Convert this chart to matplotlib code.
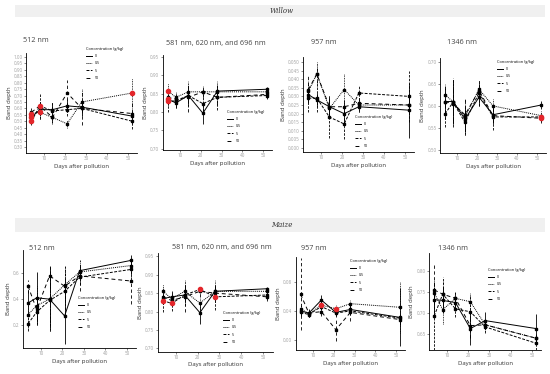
import numpy as np
import matplotlib.pyplot as plt
from matplotlib.lines import Line2D
from matplotlib.ticker import FormatStrFormatter

plt.rcParams['font.family'] = ['Open Sans', 'DejaVu Sans']

days = [4, 8, 14, 21, 28, 52]
conc = ["0", "0.5", "5", "50"]

# Willow
w512 = [[0.53, 0.59, 0.59, 0.62, 0.61, 0.54],
        [0.56, 0.57, 0.53, 0.48, 0.65, 0.72],
        [0.50, 0.62, 0.58, 0.59, 0.60, 0.50],
        [0.57, 0.62, 0.53, 0.72, 0.60, 0.56]]
w512_err = [[0.03, 0.05, 0.05, 0.05, 0.04, 0.04],
            [0.03, 0.05, 0.05, 0.03, 0.10, 0.12],
            [0.03, 0.10, 0.07, 0.05, 0.06, 0.06],
            [0.03, 0.04, 0.04, 0.10, 0.13, 0.08]]
w512_red = [(0, 0), (1, 0), (2, 0), (1, 1), (2, 1), (1, 5)]

w581 = [[0.835, 0.825, 0.845, 0.797, 0.857, 0.862],
        [0.858, 0.840, 0.855, 0.855, 0.855, 0.855],
        [0.830, 0.830, 0.845, 0.823, 0.840, 0.845],
        [0.840, 0.835, 0.840, 0.855, 0.840, 0.848]]
w581_err = [[0.015, 0.015, 0.02, 0.03, 0.015, 0.005],
            [0.02, 0.015, 0.03, 0.015, 0.03, 0.005],
            [0.03, 0.02, 0.03, 0.02, 0.035, 0.01],
            [0.02, 0.015, 0.04, 0.015, 0.02, 0.01]]
w581_red = [(0, 0), (1, 0), (2, 0)]

w957 = [[0.031, 0.028, 0.024, 0.020, 0.024, 0.022],
        [0.033, 0.043, 0.023, 0.034, 0.025, 0.025],
        [0.029, 0.029, 0.018, 0.014, 0.032, 0.030],
        [0.034, 0.043, 0.024, 0.024, 0.026, 0.025]]
w957_err = [[0.004, 0.004, 0.006, 0.006, 0.003, 0.016],
            [0.006, 0.007, 0.004, 0.009, 0.004, 0.005],
            [0.008, 0.008, 0.012, 0.009, 0.004, 0.015],
            [0.008, 0.005, 0.005, 0.005, 0.003, 0.005]]
w957_red = []

w1346 = [[0.610, 0.610, 0.570, 0.620, 0.580, 0.602],
         [0.625, 0.610, 0.575, 0.638, 0.600, 0.578],
         [0.582, 0.608, 0.563, 0.630, 0.575, 0.575],
         [0.610, 0.605, 0.580, 0.635, 0.578, 0.572]]
w1346_err = [[0.03, 0.05, 0.03, 0.02, 0.02, 0.01],
             [0.025, 0.05, 0.04, 0.02, 0.015, 0.01],
             [0.03, 0.055, 0.03, 0.03, 0.03, 0.01],
             [0.04, 0.04, 0.04, 0.02, 0.015, 0.01]]
w1346_red = [(2, 5), (3, 5)]

# Maize
m512 = [[0.37, 0.41, 0.40, 0.27, 0.62, 0.70],
        [0.28, 0.35, 0.40, 0.51, 0.61, 0.66],
        [0.21, 0.30, 0.39, 0.46, 0.57, 0.63],
        [0.50, 0.32, 0.58, 0.50, 0.58, 0.54]]
m512_err = [[0.10, 0.20, 0.25, 0.22, 0.04, 0.04],
            [0.10, 0.15, 0.25, 0.15, 0.08, 0.06],
            [0.06, 0.10, 0.20, 0.20, 0.06, 0.06],
            [0.05, 0.08, 0.08, 0.10, 0.12, 0.18]]
m512_red = []

m581 = [[0.835, 0.840, 0.845, 0.797, 0.855, 0.862],
        [0.855, 0.835, 0.855, 0.823, 0.855, 0.855],
        [0.830, 0.822, 0.845, 0.860, 0.840, 0.845],
        [0.840, 0.830, 0.840, 0.855, 0.850, 0.840]]
m581_err = [[0.015, 0.015, 0.02, 0.03, 0.015, 0.005],
            [0.02, 0.015, 0.03, 0.015, 0.03, 0.005],
            [0.03, 0.02, 0.03, 0.01, 0.035, 0.01],
            [0.02, 0.015, 0.04, 0.015, 0.02, 0.01]]
m581_red = [(2, 0), (2, 1), (2, 3), (2, 4)]

m957 = [[0.040, 0.037, 0.055, 0.038, 0.042, 0.031],
        [0.043, 0.036, 0.048, 0.043, 0.050, 0.045],
        [0.038, 0.035, 0.046, 0.037, 0.040, 0.030],
        [0.063, 0.037, 0.039, 0.014, 0.038, 0.028]]
m957_err = [[0.005, 0.004, 0.007, 0.005, 0.006, 0.040],
            [0.006, 0.005, 0.006, 0.005, 0.005, 0.035],
            [0.005, 0.004, 0.005, 0.005, 0.006, 0.008],
            [0.050, 0.006, 0.006, 0.016, 0.012, 0.008]]
m957_red = [(1, 2), (1, 3)]

m1346 = [[0.732, 0.730, 0.725, 0.663, 0.682, 0.663],
         [0.748, 0.708, 0.735, 0.727, 0.672, 0.640],
         [0.693, 0.745, 0.710, 0.703, 0.667, 0.628],
         [0.755, 0.745, 0.735, 0.670, 0.672, 0.640]]
m1346_err = [[0.03, 0.03, 0.015, 0.04, 0.02, 0.035],
             [0.03, 0.035, 0.015, 0.02, 0.015, 0.01],
             [0.08, 0.04, 0.02, 0.04, 0.015, 0.015],
             [0.06, 0.03, 0.02, 0.03, 0.01, 0.01]]
m1346_red = []

titles = ["512 nm", "581 nm, 620 nm, and 696 nm", "957 nm", "1346 nm"]
styles = ['-', (0, (1, 1)), (0, (3, 1.5)), (0, (4, 3))]

W, H = 550, 374
fig = plt.figure(figsize=(W / 100, H / 100), dpi=100)


def px_axes(left, right, top, bottom):
    return fig.add_axes([left / W, 1 - bottom / H, (right - left) / W, (bottom - top) / H])


panels = [
    # data, err, red, title, (l, r, t, b), ylim, ticks, fmt, legend (x, y), title_pos
    (w512, w512_err, w512_red, titles[0], (26.4, 137.3, 53, 153), (0.253, 1.031),
     np.arange(0.30, 1.001, 0.05), '%.2f', (84, 45), (36, 40)),
    (w581, w581_err, w581_red, titles[1], (162.6, 272.2, 55, 150), (0.697, 0.955),
     np.arange(0.70, 0.951, 0.05), '%.2f', (225, 108), (216, 43)),
    (w957, w957_err, w957_red, titles[2], (303.4, 414.3, 57, 152), (-0.0023, 0.0529),
     np.arange(0.0, 0.0501, 0.005), '%.3f', (353, 113), (324, 43)),
    (w1346, w1346_err, w1346_red, titles[3], (440.2, 545.8, 58, 153), (0.493, 0.709),
     np.arange(0.50, 0.701, 0.05), '%.2f', (495, 58), (462, 43)),
    (m512, m512_err, m512_red, titles[0], (22.9, 136.4, 250, 348), (0.022, 0.78),
     [0.2, 0.4, 0.6], '%.1f', (76, 294), (42, 248)),
    (m581, m581_err, m581_red, titles[1], (157.7, 272.5, 253, 351.7), (0.691, 0.959),
     np.arange(0.70, 0.951, 0.05), '%.2f', (221, 309), (222, 248)),
    (m957, m957_err, m957_red, titles[2], (295.6, 405.2, 257, 350), (-0.014, 0.1145),
     [0.0, 0.04, 0.08], '%.2f', (348, 257), (314, 248)),
    (m1346, m1346_err, m1346_red, titles[3], (429.1, 541.3, 253, 350), (0.612, 0.843),
     [0.65, 0.70, 0.75, 0.80], '%.2f', (486, 266), (453, 249)),
]

for vals, errs, red, title, rect, ylim, yticks, fmt, legpos, tpos in panels:
    ax = px_axes(*rect)
    for i in range(4):
        cont = ax.errorbar(days, vals[i], yerr=errs[i], color='black', ls=styles[i],
                           lw=0.7, marker='s', ms=2, elinewidth=0.6, capsize=0)
        cont[2][0].set_linestyle(styles[i])
    for s, d in red:
        ax.plot(days[d], vals[s][d], 'o', color='#e3262b', ms=3, zorder=5)
    ax.set_xlim(1.6, 54.4)
    ax.set_ylim(*ylim)
    ax.set_xticks([10, 20, 30, 40, 50])
    ax.set_yticks(yticks)
    ax.yaxis.set_major_formatter(FormatStrFormatter(fmt))
    ax.tick_params(labelsize=3.3, labelcolor='#a0a0a0', color='#333333',
                   length=1.5, width=0.4, pad=1)
    for sp in ['top', 'right']:
        ax.spines[sp].set_visible(False)
    for sp in ['left', 'bottom']:
        ax.spines[sp].set_linewidth(0.6)
    ax.set_xlabel("Days after pollution", fontsize=4.3, color='#333333', labelpad=1.5)
    ax.set_ylabel("Band depth", fontsize=4.3, color='#333333', labelpad=1.5)
    fig.text(tpos[0] / W, 1 - tpos[1] / H, title, fontsize=5.2, color='#444444',
             ha='center', va='center')
    handles = [Line2D([], [], color='black', ls=styles[i], lw=0.7) for i in range(4)]
    leg = ax.legend(handles, conc, title="Concentration (g/kg)", loc='upper left',
                    bbox_to_anchor=(legpos[0] / W, 1 - legpos[1] / H),
                    bbox_transform=fig.transFigure, frameon=False, fontsize=2.6,
                    title_fontsize=2.8, handlelength=1.6, labelspacing=0.9,
                    borderpad=0, handletextpad=0.8)
    leg._legend_box.align = 'left'

# strip headers
for top, bot, name in [(5, 17, "Willow"), (218, 232, "Maize")]:
    band = fig.add_axes([15 / W, 1 - bot / H, (545 - 15) / W, (bot - top) / H])
    band.set_facecolor('#f0f0f0')
    band.set_xticks([])
    band.set_yticks([])
    for sp in band.spines.values():
        sp.set_visible(False)
    band.text(0.503, 0.5, name, transform=band.transAxes, ha='center', va='center',
              fontsize=5, style='italic', family='serif', color='#333333')

fig.savefig("out.png", dpi=100)
